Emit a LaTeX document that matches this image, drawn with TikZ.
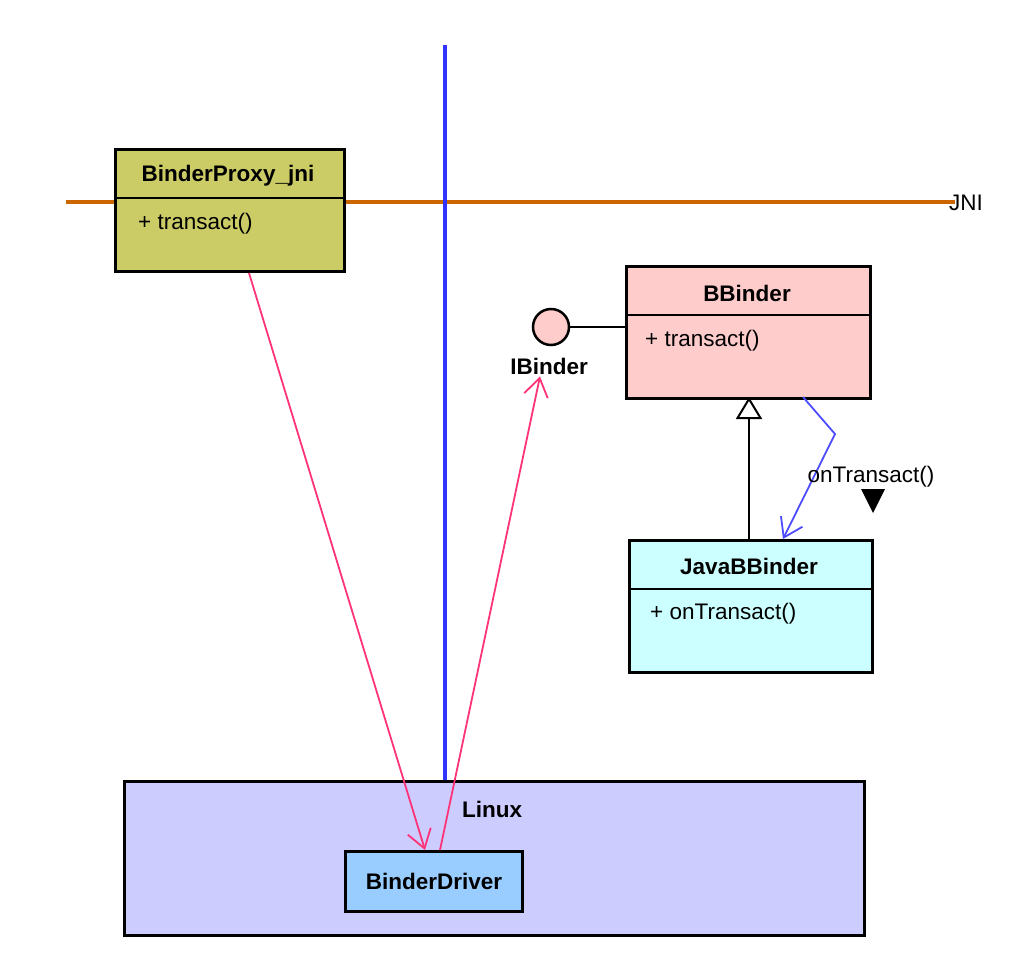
\documentclass[tikz,border=0pt]{standalone}
\usepackage{fontspec}
\setmainfont{Liberation Sans}
\usetikzlibrary{arrows.meta,calc}

\definecolor{proxyfill}{HTML}{CCCC66}
\definecolor{bbfill}{HTML}{FFCCCC}
\definecolor{jbfill}{HTML}{CCFFFF}
\definecolor{linuxfill}{HTML}{CCCCFF}
\definecolor{driverfill}{HTML}{99CCFF}
\definecolor{jniline}{HTML}{CC6600}
\definecolor{kernline}{HTML}{3333FF}
\definecolor{callpink}{HTML}{FF3377}
\definecolor{msgblue}{HTML}{4D4DFF}

\tikzset{
  classbox/.style={draw=black, line width=3pt, anchor=north west, inner sep=0pt},
  divider/.style={draw=black, line width=1.5pt},
  title/.style={font=\fontsize{22.5}{26}\selectfont\bfseries, inner sep=0pt},
  member/.style={font=\fontsize{22.5}{26}\selectfont, inner sep=0pt, anchor=west},
  plain/.style={font=\fontsize{22.5}{26}\selectfont, inner sep=0pt},
  callarrow/.style={draw=callpink, line width=1.8pt, -{Straight Barb[length=18pt,width=24pt,line width=1.8pt]}},
  msgarrow/.style={draw=msgblue, line width=1.8pt, -{Straight Barb[length=18pt,width=24pt,line width=1.8pt]}},
  inherit/.style={draw=black, line width=2pt, -{Triangle[open,length=22pt,width=26pt,line width=2pt,fill=white]}},
}

\begin{document}
\begin{tikzpicture}[x=1pt,y=-1pt]
\useasboundingbox (0,0) rectangle (1034,968);

% boundary lines: JNI layer and kernel boundary
\coordinate (jniL) at (66,202);
\coordinate (jniR) at (955,202);
\coordinate (kernTop) at (445,45);
\draw[jniline, line width=4.5pt] (jniL) -- (jniR);
\node[plain] (jni) at (966,203) {JNI};

% Linux kernel container and driver
\node[classbox, fill=linuxfill, minimum width=740pt, minimum height=154pt] (linux) at (123,780) {};
\node[title] (linuxlbl) at (492,809) {Linux};
\node[classbox, fill=driverfill, minimum width=177pt, minimum height=60pt] (driver) at (344,850) {};
\node[title] at (driver.center) {BinderDriver};

\draw[kernline, line width=3.5pt] (kernTop) -- (kernTop |- linux.north);

% BinderProxy_jni class
\node[classbox, fill=proxyfill, minimum width=229pt, minimum height=122pt] (proxy) at (114,148) {};
\draw[divider] (proxy.west |- 0,198) -- (proxy.east |- 0,198);
\node[title] (proxyname) at (228,176) {BinderProxy\_jni};
\node[member] (proxyop) at (138,224) {+ transact()};

% BBinder class
\node[classbox, fill=bbfill, minimum width=244pt, minimum height=132pt] (bb) at (625,265) {};
\draw[divider] (bb.west |- 0,315) -- (bb.east |- 0,315);
\node[title] (bbname) at (747,293) {BBinder};
\node[member] (bbop) at (645,341) {+ transact()};

% IBinder interface lollipop
\node[circle, draw=black, line width=2.5pt, fill=bbfill, minimum size=36pt, inner sep=0pt] (ib) at (551,327) {};
\node[title] (iblbl) at (549,366) {IBinder};
\draw[black, line width=1.8pt] (ib.east) -- (ib.east -| bb.west);

% JavaBBinder class
\node[classbox, fill=jbfill, minimum width=243pt, minimum height=132pt] (jb) at (628,539) {};
\draw[divider] (jb.west |- 0,589) -- (jb.east |- 0,589);
\node[title] (jbname) at (749,566) {JavaBBinder};
\node[member] (jbop) at (650,614) {+ onTransact()};

% generalisation JavaBBinder -> BBinder
\coordinate (genTop) at (749,397);
\draw[inherit] (jb.north -| genTop) -- (genTop);

% onTransact() message
\coordinate (msgStart) at (803,397);
\coordinate (msgBend) at (835,434);
\coordinate (msgEnd) at (783,539);
\draw[msgarrow] (msgStart) -- (msgBend) -- (msgEnd);
\node[plain] (msglbl) at (871,477) {onTransact()};
\fill[black] (861,489) -- (885,489) -- (873,513) -- cycle;

% calls through the driver
\draw[callarrow] ($(proxy.south)+(19,0)$) -- ($(driver.north)+(-9,0)$);
\draw[callarrow] ($(driver.north)+(6,0)$) -- ($(iblbl.south)+(-9,2)$);
\end{tikzpicture}
\end{document}
